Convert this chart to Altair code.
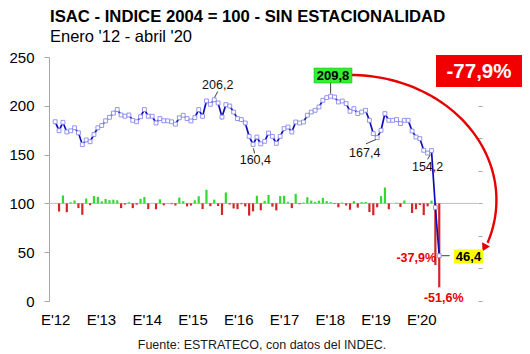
import json
import numpy as np
import pandas as pd
import altair as alt

FONT = "Liberation Sans"

# ---- data ----
year_labels = ["E'12", "E'13", "E'14", "E'15", "E'16", "E'17", "E'18", "E'19", "E'20"]

isac = [
    183.7, 174.5, 183.1, 173.2, 174.4, 177.5, 172.3, 160.2, 165.0, 163.2, 170.6, 177.5,
    179.8, 184.6, 188.2, 192.5, 196.2, 190.6, 189.3, 190.6, 185.1, 183.7, 188.8, 196.2,
    189.3, 189.3, 182.4, 186.9, 184.7, 184.6, 183.6, 181.2, 187.7, 190.3, 186.9, 184.4,
    187.9, 196.1, 189.2, 205.0, 201.5, 206.2, 202.9, 188.5, 201.2, 199.8, 193.6, 186.9,
    185.9, 182.4, 168.7, 160.4, 168.0, 161.0, 163.6, 172.1, 168.7, 161.5, 168.7, 176.6,
    178.3, 173.2, 183.4, 182.4, 183.4, 190.3, 193.6, 195.4, 198.8, 205.6, 208.4, 209.8,
    209.0, 203.9, 204.9, 202.3, 194.4, 197.1, 192.0, 193.6, 195.4, 185.1, 171.5, 167.4,
    174.9, 192.0, 185.1, 185.1, 185.9, 181.8, 185.1, 185.1, 174.2, 168.0, 166.4, 154.4,
    151.6, 154.2, 95.8, 46.4,
]

var_mensual = [
    -5.0, 4.9, -5.4, 0.7, 1.8, -2.9, -7.0, 3.0, -1.1, 4.5, 4.0,
    1.3, 2.7, 2.0, 2.3, 1.9, -2.9, -0.7, 0.7, -2.9, -0.8, 2.8, 3.9,
    -3.5, 0.0, -3.6, 2.5, -1.2, -0.1, -0.5, -1.3, 3.6, 1.4, -1.8, -1.3,
    1.9, 4.4, -3.5, 8.4, -1.7, 2.3, -1.6, -7.1, 6.7, -0.7, -3.1, -3.5,
    -0.5, -1.9, -7.5, -4.9, 4.7, -4.2, 1.6, 5.2, -2.0, -4.3, 4.5, 4.7,
    1.0, -2.9, 5.9, -0.5, 0.5, 3.8, 1.7, 0.9, 1.7, 3.4, 1.4, 0.7,
    -0.4, -2.4, 0.5, -1.3, -3.9, 1.4, -2.6, 0.8, 0.9, -5.3, -7.3, -2.4,
    4.5, 9.8, -3.6, 0.0, 0.4, -2.2, 1.8, 0.0, -5.9, -3.6, -1.0, -7.2,
    -1.8, 1.7, -37.9, -51.6,
]

months = list(range(len(isac)))

point_labels = ["206,2", "160,4", "167,4", "154,2"]
label_x = [41.9, 51.6, 79.8, 96.0]
label_y = [221.3, 144.5, 151.3, 137.0]

leader_x = [41.9, 51.4, 80.1, 96.0, 71.0, 99.6]
leader_y = [214.7, 151.2, 161.0, 145.2, 223.4, 46.4]
leader_x2 = [41.1, 51.1, 82.7, 96.7, 71.0, 101.7]
leader_y2 = [208.5, 156.4, 165.5, 150.0, 212.5, 46.4]

df = pd.DataFrame({"mes": months, "isac": isac})
dfb = pd.DataFrame({"mes": months[1:], "pct": var_mensual})
df_lab = pd.DataFrame({"x": label_x, "y": label_y, "t": point_labels})
df_lead = pd.DataFrame({"x": leader_x, "y": leader_y, "x2": leader_x2, "y2": leader_y2})

# decorative curved arrow (ellipse arc, data coordinates)
tt = np.radians(np.linspace(90, -20, 60))
df_arc = pd.DataFrame({"k": np.arange(60), "x": 75.98 + 37.76 * np.cos(tt), "y": 103.5 + 128.1 * np.sin(tt)})
df_head = pd.DataFrame({"x": [110.6], "y": [54.6]})

one = pd.DataFrame({"a": [0]})

W, H = 429, 244
GREEN = "#2EDB2E"
RED_BAR = "#D02626"
RED = "#E60000"
GRAY = "#A6A6A6"

x_scale = alt.Scale(domain=[-0.3, 107.7], nice=False, zero=False)
y_scale = alt.Scale(domain=[0, 250], nice=False)
b_scale = alt.Scale(domain=[-60, 90], nice=False)

x_axis = alt.Axis(
    values=[round(11.8 * k, 3) for k in range(len(year_labels))],
    labelExpr=f"{json.dumps(year_labels)}[round(datum.value / 11.8)]",
    title=None, grid=False, domain=False, ticks=False, tickSize=0,
    labelFontSize=15, labelFont=FONT, labelColor="black", labelPadding=11,
    labelAngle=0, labelOverlap=False,
)
y_axis = alt.Axis(
    orient="left", values=[0, 50, 100, 150, 200, 250], title=None, grid=False,
    domainColor=GRAY, tickColor=GRAY, tickSize=5, labelFontSize=15, labelFont=FONT,
    labelColor="black", labelPadding=10,
)
b_axis = alt.Axis(
    orient="right", values=list(range(-60, 81, 20)), labels=False, domain=False,
    ticks=True, tickColor=GRAY, tickSize=4, grid=False, title=None,
)


def X(f):
    return alt.X(f"{f}:Q", scale=x_scale, axis=x_axis)


def Y(f):
    return alt.Y(f"{f}:Q", scale=y_scale, axis=y_axis)


# ---- bars group (own scale, 0% aligned with 100) ----
zero_rule = alt.Chart(pd.DataFrame({"z": [0]})).mark_rule(color="#BFBFBF", strokeWidth=1).encode(
    y=alt.Y("z:Q", scale=b_scale, axis=b_axis)
)
bars = alt.Chart(dfb).mark_bar(size=2.2).encode(
    x=X("mes"),
    y=alt.Y("pct:Q", scale=b_scale, axis=b_axis),
    y2=alt.datum(0),
    color=alt.condition("datum.pct >= 0", alt.value(GREEN), alt.value(RED_BAR)),
)
bars_group = alt.layer(zero_rule, bars)

# ---- index group ----
line = alt.Chart(df).mark_line(color="#0E0EB8", strokeWidth=1.7).encode(x=X("mes"), y=Y("isac"))
pts = alt.Chart(df).mark_point(
    shape="square", filled=True, fill="white", stroke="#8A8AEE", strokeWidth=0.9, size=15, opacity=1
).encode(x=X("mes"), y=Y("isac"))

leaders = alt.Chart(df_lead).mark_rule(color="#404040", strokeWidth=1).encode(
    x=X("x"), y=Y("y"), x2="x2", y2="y2"
)
labels = alt.Chart(df_lab).mark_text(font=FONT, fontSize=12.5, color="#111111", baseline="middle").encode(
    x=X("x"), y=Y("y"), text="t:N"
)

arc = alt.Chart(df_arc).mark_line(color=RED, strokeWidth=2.4).encode(x=X("x"), y=Y("y"), order="k:Q")
head = alt.Chart(df_head).mark_point(shape="triangle-down", filled=True, color=RED, size=80, angle=28, opacity=1).encode(
    x=X("x"), y=Y("y")
)

# boxes and texts (pixel positions relative to the plot area)
green_box = alt.Chart(one).mark_rect(color="#33EE33", stroke="#22AA22", strokeWidth=0.5).encode(
    x=alt.value(265), x2=alt.value(303), y=alt.value(11), y2=alt.value(26)
)
green_txt = alt.Chart(one).mark_text(text="209,8", font=FONT, fontSize=13, fontWeight="bold", color="black").encode(
    x=alt.value(284), y=alt.value(18.8)
)
yellow_box = alt.Chart(one).mark_rect(color="#FFFF00").encode(
    x=alt.value(405), x2=alt.value(434), y=alt.value(192.5), y2=alt.value(206.5)
)
yellow_txt = alt.Chart(one).mark_text(text="46,4", font=FONT, fontSize=13, fontWeight="bold", color="black").encode(
    x=alt.value(419.5), y=alt.value(199.8)
)
red_box = alt.Chart(one).mark_rect(color="#F20000").encode(
    x=alt.value(387), x2=alt.value(473), y=alt.value(-2), y2=alt.value(30)
)
red_txt = alt.Chart(one).mark_text(text="-77,9%", font=FONT, fontSize=20.5, fontWeight="bold", color="white").encode(
    x=alt.value(430), y=alt.value(14.5)
)
p379 = alt.Chart(one).mark_text(text="-37,9%", font=FONT, fontSize=12.5, fontWeight="bold", color=RED, align="right").encode(
    x=alt.value(387), y=alt.value(201)
)
p516 = alt.Chart(one).mark_text(text="-51,6%", font=FONT, fontSize=12.5, fontWeight="bold", color=RED).encode(
    x=alt.value(394.7), y=alt.value(241)
)
title = alt.Chart(one).mark_text(
    text="ISAC - INDICE 2004 = 100 - SIN ESTACIONALIDAD", font=FONT, fontSize=16.7, fontWeight="bold",
    color="black", align="left",
).encode(x=alt.value(1), y=alt.value(-40))
subtitle = alt.Chart(one).mark_text(
    text="Enero '12 - abril '20", font=FONT, fontSize=16.5, color="black", align="left"
).encode(x=alt.value(1), y=alt.value(-20))
footer = alt.Chart(one).mark_text(
    text="Fuente: ESTRATECO, con datos del INDEC.", font=FONT, fontSize=12.5, color="#1a1a1a"
).encode(x=alt.value(213), y=alt.value(288))

index_group = alt.layer(
    line, pts, leaders, labels, arc, head,
    green_box, green_txt, yellow_box, yellow_txt, red_box, red_txt,
    p379, p516, title, subtitle, footer,
)

chart = (
    alt.layer(bars_group, index_group)
    .resolve_scale(y="independent")
    .properties(
        width=W, height=H,
        padding={"left": 49, "top": 57, "right": 52, "bottom": 53},
        autosize=alt.AutoSizeParams(type="none"),
        background="white",
    )
    .configure_view(stroke=None)
)

chart.save("out.html", embed_options={"renderer": "svg", "actions": False})
